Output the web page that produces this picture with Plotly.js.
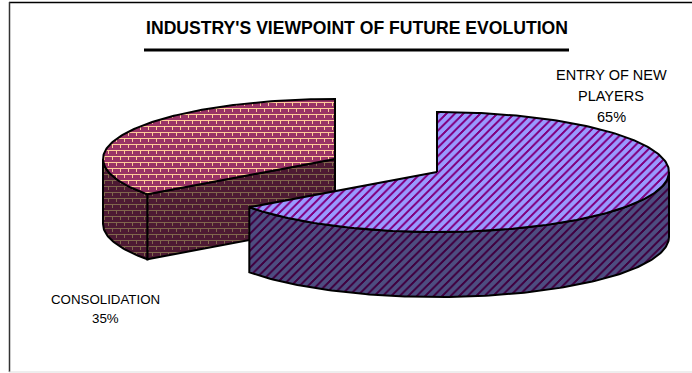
<!DOCTYPE html>
<html>
<head>
<meta charset="utf-8">
<script src="https://cdn.plot.ly/plotly-3.0.1.min.js"></script>
<style>html,body{margin:0;padding:0;background:#fff}#chart{width:692px;height:373px}</style>
</head>
<body>
<div id="chart"></div>
<script>
// Survey shares, in the order they run clockwise from twelve o'clock.
const segments = ['ENTRY OF NEW PLAYERS', 'CONSOLIDATION'];
const shares = [65, 35];
const chartTitle = "INDUSTRY'S VIEWPOINT OF FUTURE EVOLUTION";
const labelLines = [['ENTRY OF NEW', 'PLAYERS'], ['CONSOLIDATION']];

// Tilted-disc projection, in pixels of the page.
const RX = 232, RY = 60, DEPTH = 65;
const centres = [{x: 437, y: 172}, {x: 335, y: 159}];
const labelSpots = [{x: 611, size: 14.5, ys: [75, 96, 117]}, {x: 105, size: 13.3, ys: [299, 318]}];
const styles = [
  {top: ['#9999ff', '#800080'], side: ['#4d4d80', '#400040'], shape: '/', size: 6, solidity: 0.42},
  {top: ['#993366', '#ffcc99'], side: ['#4d1a33', '#80664d'], shape: '-', size: 24, solidity: 0.05}
];

function rim(c, deg, drop) {
  const t = deg * Math.PI / 180;
  return {x: c.x + RX * Math.sin(t), y: c.y - RY * Math.cos(t) + drop};
}
function arc(c, from, to, drop) {
  const out = [];
  const n = Math.max(2, Math.ceil(Math.abs(to - from)));
  for (let i = 0; i <= n; i++) out.push(rim(c, from + (to - from) * i / n, drop));
  return out;
}
function face(points, colours, st) {
  return {
    type: 'scatter', mode: 'lines', fill: 'toself', hoverinfo: 'skip', showlegend: false,
    x: points.map(p => p.x), y: points.map(p => p.y),
    line: {color: '#000', width: 2, shape: 'linear'},
    fillcolor: colours[0],
    fillpattern: {shape: st.shape, size: st.size, solidity: st.solidity, bgcolor: colours[0], fgcolor: colours[1], fgopacity: 1}
  };
}

const total = shares.reduce((a, b) => a + b, 0);
const spans = [];
let running = 0;
shares.forEach(v => { spans.push([running, running + v / total * 360]); running += v / total * 360; });

function sliceTraces(i) {
  const c = centres[i], st = styles[i], [a, b] = spans[i];
  const traces = [];
  // Cut wall that faces the viewer: only when the slice starts on the left-front and carries on behind it.
  if (a > 180 && a < 270) {
    const p = rim(c, a, 0), q = rim(c, a, DEPTH);
    traces.push(face([p, {x: c.x, y: c.y}, {x: c.x, y: c.y + DEPTH}, q, p], st.side, st));
  }
  // Outer wall on the front half of the disc (90 to 270 degrees).
  const lo = Math.max(a, 90), hi = Math.min(b, 270);
  if (hi > lo) {
    const front = arc(c, lo, hi, 0), back = arc(c, hi, lo, DEPTH);
    traces.push(face(front.concat(back, [front[0]]), st.side, st));
  }
  // Top surface.
  const topArc = arc(c, a, b, 0);
  traces.push(face([{x: c.x, y: c.y}].concat(topArc, [{x: c.x, y: c.y}]), st.top, st));
  return traces;
}

// The consolidation slice sits behind the pulled-out slice.
const data = sliceTraces(1).concat(sliceTraces(0));

const annotations = [];
segments.forEach((name, i) => {
  const lines = labelLines[i].concat([shares[i] + '%']);
  lines.forEach((txt, k) => annotations.push({
    xref: 'x', yref: 'y', x: labelSpots[i].x, y: labelSpots[i].ys[k], text: txt, showarrow: false,
    xanchor: 'center', yanchor: 'middle', font: {family: 'Liberation Sans', size: labelSpots[i].size, color: '#000'}
  }));
});

const frame = {type: 'line', xref: 'x', yref: 'y', layer: 'below'};
const layout = {
  width: 692, height: 373,
  margin: {l: 0, r: 0, t: 0, b: 0},
  paper_bgcolor: '#fff', plot_bgcolor: '#fff',
  xaxis: {range: [0, 692], visible: false, fixedrange: true},
  yaxis: {range: [373, 0], visible: false, fixedrange: true},
  showlegend: false,
  title: {text: '<b>' + chartTitle + '</b>', x: 357 / 692, xanchor: 'center', y: 1 - 28 / 373, yanchor: 'middle',
          font: {family: 'Liberation Sans', size: 17.6, color: '#000'}},
  annotations,
  shapes: [
    Object.assign({}, frame, {x0: 9, x1: 692, y0: 2.5, y1: 2.5, line: {color: '#000', width: 1.5}}),
    Object.assign({}, frame, {x0: 9.5, x1: 9.5, y0: 2, y1: 372, line: {color: '#333', width: 1.5}}),
    Object.assign({}, frame, {x0: 9, x1: 692, y0: 372, y1: 372, line: {color: '#ddd', width: 1}}),
    Object.assign({}, frame, {x0: 144, x1: 569, y0: 50, y1: 50, line: {color: '#000', width: 3}})
  ]
};

Plotly.newPlot('chart', data, layout, {displayModeBar: false, staticPlot: true}).then(() => {
  document.querySelectorAll('pattern').forEach(p => {
    const path = p.querySelector('path');
    if (!path) return;
    path.setAttribute('shape-rendering', 'crispEdges');
    // Plotly has no brick fill, so the wide tile is redrawn: four courses of 8px bricks, offset every other row.
    if (parseFloat(p.getAttribute('width')) !== 24) return;
    let d = '';
    for (let row = 0; row < 4; row++) {
      const y = row * 6 + 0.5;
      d += 'M0,' + y + 'H24';
      for (let col = 0; col < 3; col++) {
        const x = col * 8 + (row % 2 ? 4 : 0) + 0.5;
        d += 'M' + x + ',' + y + 'V' + (y + 3);
      }
    }
    path.setAttribute('d', d);
    path.style.strokeWidth = '1px';
  });
});
</script>
</body>
</html>
